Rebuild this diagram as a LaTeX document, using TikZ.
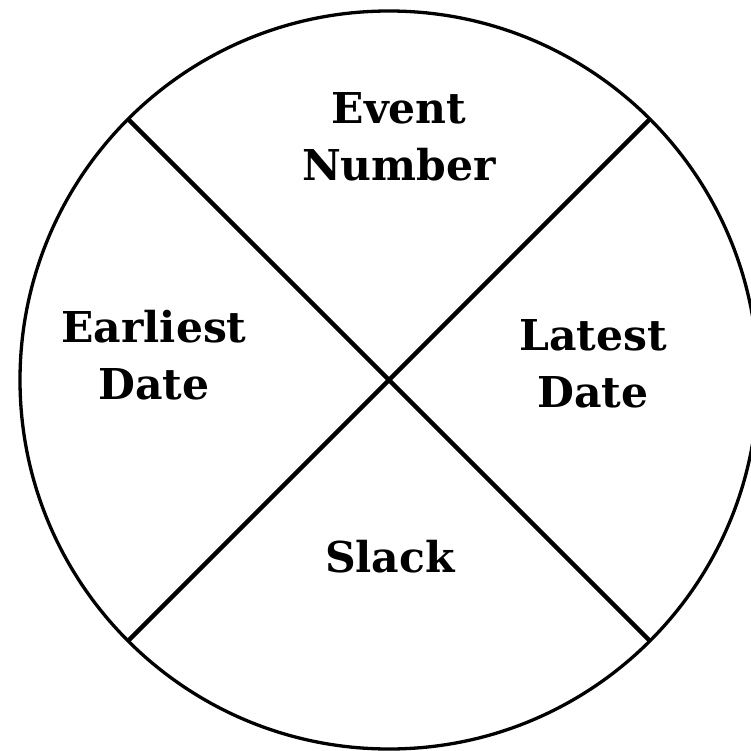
\documentclass[tikz,border=0pt]{standalone}
\usepackage{fontspec}
\setmainfont{DejaVu Serif}
\usetikzlibrary{positioning}

\begin{document}
\begin{tikzpicture}[
  x=1pt, y=-1pt,
  rim/.style={
    draw,
    circle,
    line width=3.3pt,
    minimum size=738pt,
    inner sep=0pt,
    outer sep=0pt
  },
  divider/.style={line width=4.3pt},
  field/.style={
    align=center,
    font=\bfseries\fontsize{42.5}{57}\selectfont
  }
]

% ========== Frame ==========
\useasboundingbox (0,0) rectangle (751,751);
\clip (0,0) rectangle (751,751);

% ========== Event circle ==========
\node[rim] (event) at (389,380) {};

% Diagonal dividers
\draw[divider] (event.135) -- (event.-45);
\draw[divider] (event.45) -- (event.-135);

% ========== Quadrant labels ==========
\node[field] (number) at (399,137) {Event\\Number};
\node[field] (earliest) at (154,355) {Earliest\\Date};
\node[field] (latest) at (593,364) {Latest\\Date};
\node[field] (slack) at (390,557) {Slack};

\end{tikzpicture}
\end{document}
